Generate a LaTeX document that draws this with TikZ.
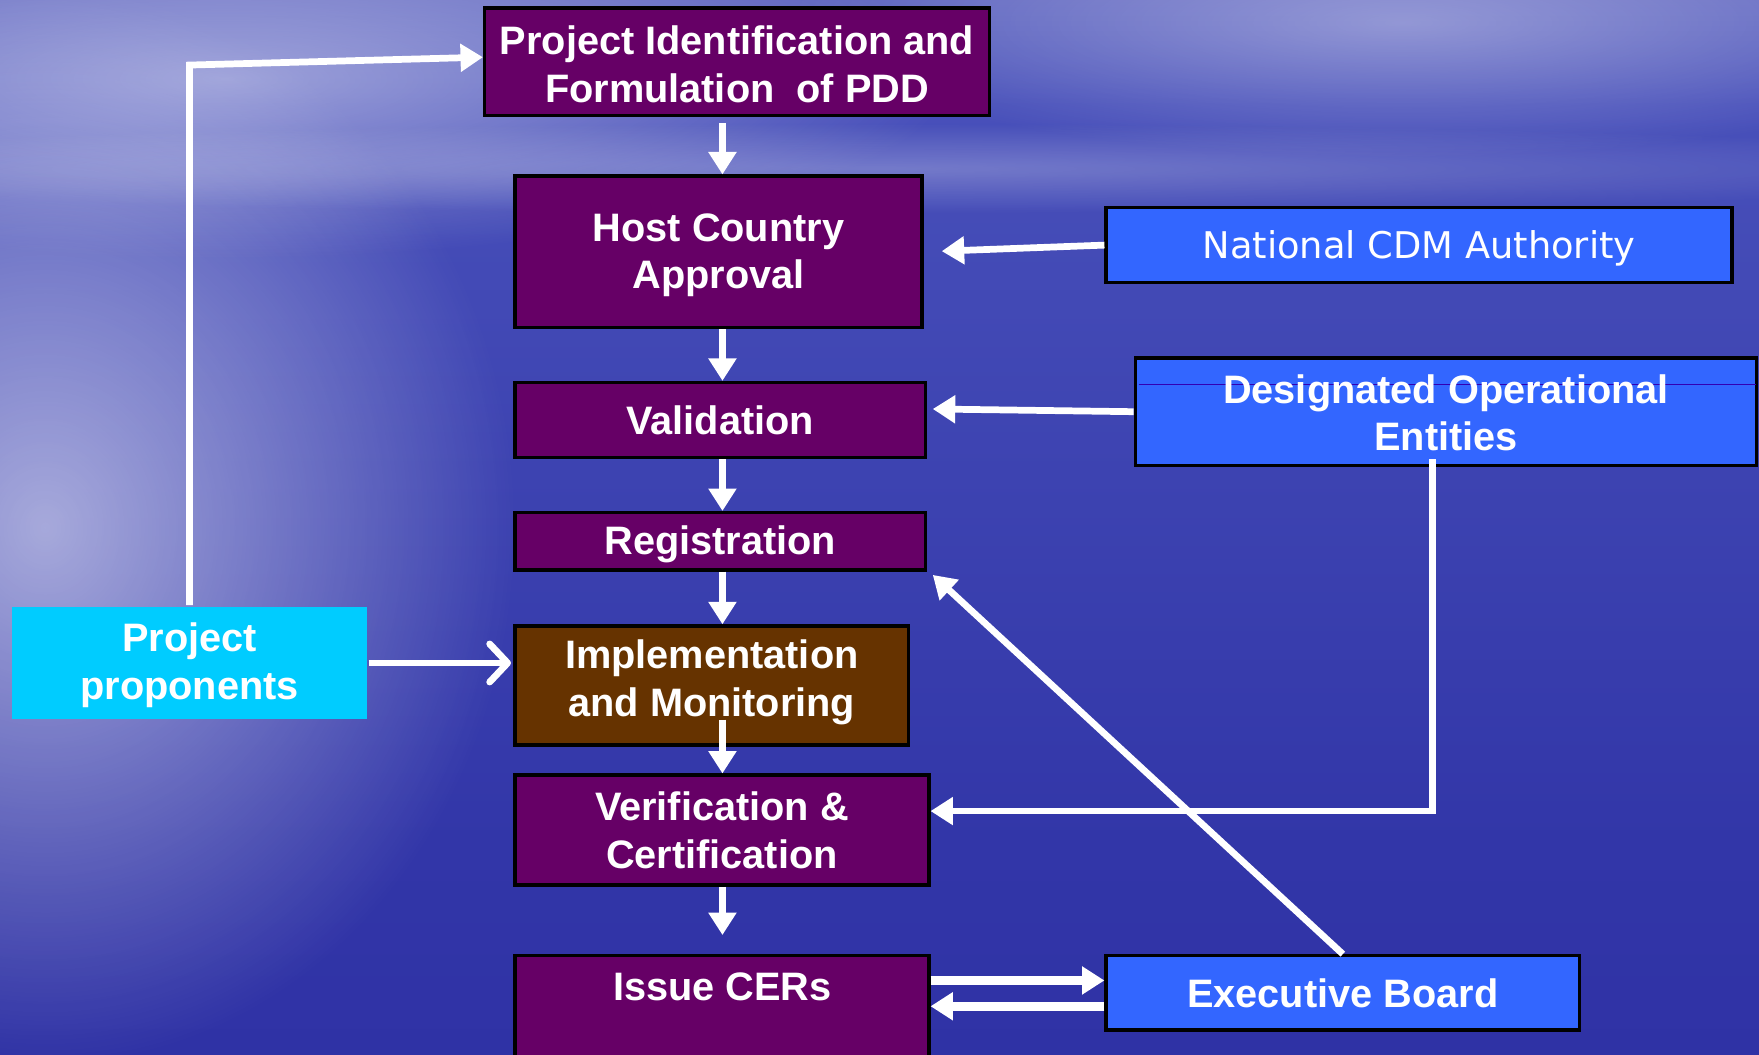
\documentclass[tikz,border=0pt]{standalone}
\usepackage{fontspec}
\setmainfont{Liberation Sans}
\newfontfamily\dejavu{DejaVu Sans}
\usetikzlibrary{arrows.meta,fadings}
\definecolor{cdmpurple}{RGB}{102,0,102}
\definecolor{cdmbrown}{RGB}{102,51,0}
\definecolor{cdmblue}{RGB}{51,102,255}
\definecolor{cdmcyan}{RGB}{0,204,255}
\definecolor{seaB}{RGB}{40,40,158}
\definecolor{seaM}{RGB}{50,54,168}
\definecolor{seaU}{RGB}{72,80,186}
\definecolor{hz}{RGB}{160,160,216}
\definecolor{hzb}{RGB}{120,125,200}
\definecolor{sky1}{RGB}{112,112,196}
\definecolor{sky2}{RGB}{120,120,202}
\pgfdeclareverticalshading{bgsea}{100bp}{color(0bp)=(seaB); color(35bp)=(seaM); color(70bp)=(seaU); color(81bp)=(hzb); color(84bp)=(hz); color(87bp)=(sky1); color(100bp)=(sky2)}
\tikzfading[name=softglow, inner color=transparent!0, outer color=transparent!100]
\tikzset{
  box/.style={draw=black, line width=1.5pt, fill=cdmpurple, text=white, align=center, inner sep=0pt,
    font=\bfseries\fontsize{17.7}{21.3}\selectfont},
  bluebox/.style={box, fill=cdmblue},
  lbl/.style={text=white, align=center, font=\bfseries\fontsize{17.7}{21.3}\selectfont},
  arr/.style={draw=white, line width=3pt, -{Triangle[length=10pt,width=12pt]}},
  barb/.style={draw=white, line width=3pt, -{Straight Barb[length=8pt,width=17pt,round]}},
  glow/.style={fill=white, path fading=softglow},
}
\begin{document}
\begin{tikzpicture}[x=0.5pt,y=-0.5pt]
\useasboundingbox (0,0) rectangle (1568,940);
\begin{scope}
\clip (0,0) rectangle (1568,940);
\shade[shading=bgsea] (0,0) rectangle (1568,940);
\fill[glow, opacity=0.55] (40,470) ellipse (420 and 480);
\fill[glow, opacity=0.45] (200,70) ellipse (650 and 160);
\fill[glow, opacity=0.35] (1250,20) ellipse (550 and 120);
\fill[glow, opacity=0.25] (780,150) ellipse (1100 and 40);
\end{scope}

% boxes
\node[box, minimum width=225pt, minimum height=48pt] (pdd) at (657,55) {};
\node[lbl, yshift=-1pt] (pddt) at (pdd.center) {Project Identification and\\Formulation\ \ of PDD};
\node[box, minimum width=181.5pt, minimum height=67.5pt] (hca) at (640.5,224.5) {};
\node[lbl, yshift=-1.5pt] (hcat) at (hca.center) {Host Country\\Approval};
\node[box, minimum width=183pt, minimum height=33.5pt] (val) at (642,374.5) {Validation};
\node[box, minimum width=183pt, minimum height=25.5pt] (reg) at (642,482.5) {};
\node[lbl, yshift=-1.5pt] (regt) at (reg.center) {Registration};
\node[box, fill=cdmbrown, minimum width=175.5pt, minimum height=53pt] (imp) at (634.5,611) {};
\node[lbl] (impt) at (634.5,608) {Implementation\\and Monitoring};
\node[box, minimum width=184.5pt, minimum height=49pt] (ver) at (643.5,740) {Verification \&\\Certification};
\node[box, minimum width=184.5pt, minimum height=49pt] (cer) at (643.5,901) {};
\node[lbl] (cert) at (644,880) {Issue CERs};
\node[bluebox, minimum width=279pt, minimum height=33.5pt] (nat) at (1265,218.5) {};
\node[lbl, font=\dejavu\fontsize{16.4}{20}\selectfont, yshift=-1.5pt] (natt) at (nat.center) {National CDM Authority};
\node[bluebox, minimum width=277pt, minimum height=48pt] (doe) at (1289,367) {};
\draw[cdmpurple!50!blue, line width=0.4pt] (1015,343) -- (1565,343);
\node[lbl] (doet) at (1289,368) {Designated Operational\\Entities};
\node[bluebox, minimum width=211pt, minimum height=33pt] (eb) at (1197,885) {Executive Board};
\node[box, draw=none, fill=cdmcyan, minimum width=158pt, minimum height=50pt] (prop) at (169,591) {};
\node[lbl, yshift=-1pt] (propt) at (prop.center) {Project\\proponents};

% spine arrows
\coordinate (sp) at (644,0);
\draw[arr, shorten <=2.5pt] (pdd.south -| sp) -- (hca.north -| sp);
\draw[arr] (hca.south -| sp) -- (val.north -| sp);
\draw[arr] (val.south -| sp) -- (reg.north -| sp);
\draw[arr] (reg.south -| sp) -- (imp.north -| sp);
\coordinate (impin) at ([yshift=12pt]imp.south);
\draw[arr] (impin -| sp) -- (ver.north -| sp);
\draw[arr, shorten >=8.5pt] (ver.south -| sp) -- (cer.north -| sp);

% proponents
\coordinate (pc) at (169,58);
\draw[arr, line join=miter] (prop.north) -- (pc) -- ([yshift=2pt]pdd.west);
\draw[barb, shorten >=1pt] (prop.east) -- ([yshift=10pt]imp.west);

% external bodies
\draw[arr, shorten >=8pt] (nat.west) -- (hca.east);
\draw[arr, shorten >=2.5pt] (doe.west) -- ([yshift=5pt]val.east);
\coordinate (dd) at (1277,723);
\draw[arr, line join=miter] ([yshift=3.5pt]doe.south -| dd) -- (dd) -- (dd -| ver.east);
\draw[arr] (eb.north) -- ([xshift=2.5pt,yshift=-1.5pt]reg.south east);
\coordinate (e1) at ([yshift=5.5pt]eb.west);
\coordinate (e2) at ([yshift=-6pt]eb.west);
\draw[arr, line width=4pt] (e1 -| cer.east) -- (e1);
\draw[arr, line width=4pt] (e2) -- (e2 -| cer.east);
\end{tikzpicture}
\end{document}
